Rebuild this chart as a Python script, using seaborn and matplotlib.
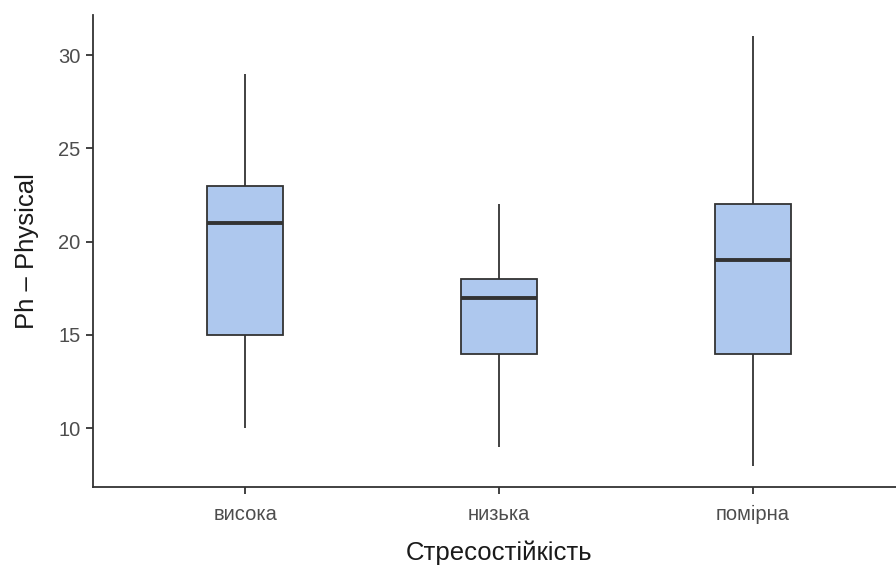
import matplotlib
matplotlib.use("Agg")
import matplotlib.pyplot as plt
import seaborn as sns
import pandas as pd

# Stress-resilience groups and the five-number summary of each
groups = ["висока", "низька", "помірна"]
low_whisker = [10, 9, 8]
q1 = [15, 14, 14]
median = [21, 17, 19]
q3 = [23, 18, 22]
high_whisker = [29, 22, 31]

yticks = [10, 15, 20, 25, 30]

rows = []
for g, a, b, c, d, e in zip(groups, low_whisker, q1, median, q3, high_whisker):
    for v in (a, b, c, d, e):
        rows.append({"Стресостійкість": g, "Ph – Physical": v})
df = pd.DataFrame(rows)

sns.set_theme(style="ticks")
plt.rcParams["font.family"] = ["Liberation Sans", "DejaVu Sans"]

fig = plt.figure(figsize=(8.96, 5.66), dpi=100)
ax = fig.add_axes([93 / 896, 79 / 566, 812 / 896, 472 / 566])

line = "#333333"
sns.boxplot(
    data=df, x="Стресостійкість", y="Ph – Physical", order=groups,
    width=0.3, color="#AEC8EE", saturation=1, whis=1.5, ax=ax,
    boxprops=dict(edgecolor=line, linewidth=1.3),
    whiskerprops=dict(color=line, linewidth=1.3),
    capprops=dict(linewidth=0),
    medianprops=dict(color=line, linewidth=2.8),
    showfliers=False,
)

ax.set_xlim(-0.6, 2.6)
ax.set_ylim(6.85, 32.15)
ax.set_yticks(yticks)
ax.set_yticklabels([str(t) for t in yticks])

for side in ("top", "right"):
    ax.spines[side].set_visible(False)
for side in ("left", "bottom"):
    ax.spines[side].set_color(line)
    ax.spines[side].set_linewidth(1.3)

ax.tick_params(axis="both", colors=line, length=5, width=1.3,
               labelsize=14.5, labelcolor="#4D4D4D")
ax.tick_params(axis="y", pad=4)
ax.tick_params(axis="x", pad=8)
ax.set_xlabel("Стресостійкість", fontsize=18.5, color="#1A1A1A", labelpad=12)
ax.set_ylabel("Ph – Physical", fontsize=18.5, color="#1A1A1A", labelpad=14)

fig.savefig("out.png", dpi=100)
